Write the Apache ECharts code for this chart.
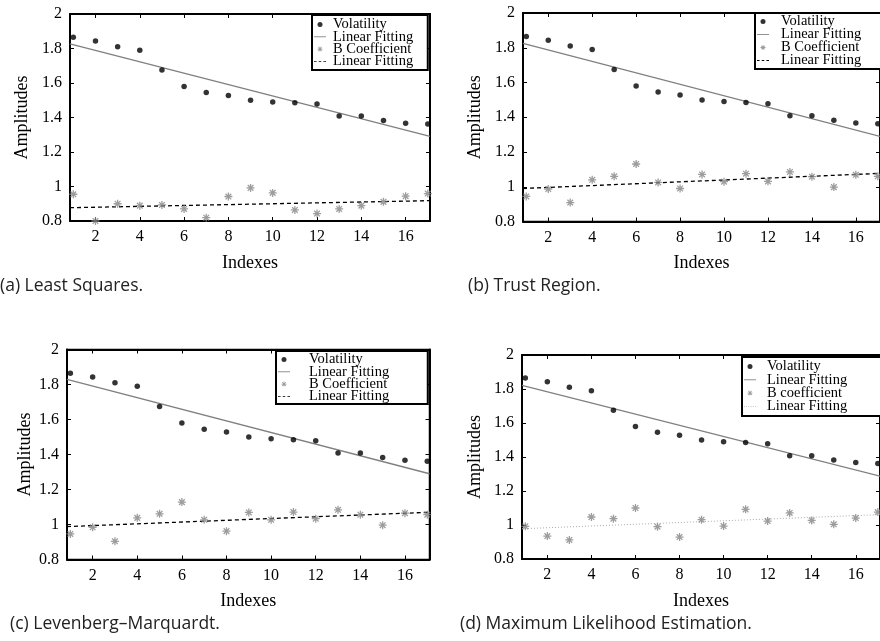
<!DOCTYPE html>
<html><head><meta charset="utf-8">
<script src="https://cdn.jsdelivr.net/npm/echarts@6/dist/echarts.min.js"></script>
<style>html,body{margin:0;padding:0;background:#fff}#c{width:880px;height:641px}</style>
</head><body><div id="c"></div>
<script>
// ---- data ----
const indexes = [1,2,3,4,5,6,7,8,9,10,11,12,13,14,15,16,17];
const volatility = [1.865,1.843,1.810,1.790,1.675,1.580,1.545,1.528,1.500,1.490,1.485,1.478,1.408,1.408,1.383,1.367,1.362];
const bCoefLS  = [0.955,0.800,0.900,0.889,0.893,0.870,0.819,0.942,0.992,0.963,0.864,0.843,0.870,0.889,0.911,0.944,0.959];
const bCoefTR  = [0.944,0.987,0.909,1.040,1.060,1.131,1.025,0.990,1.071,1.029,1.075,1.031,1.085,1.058,0.998,1.069,1.060];
const bCoefLM  = [0.946,0.984,0.904,1.038,1.061,1.128,1.027,0.962,1.069,1.027,1.071,1.033,1.084,1.056,0.996,1.065,1.056];
const bCoefMLE = [0.992,0.935,0.912,1.047,1.037,1.100,0.990,0.929,1.031,0.994,1.092,1.023,1.071,1.027,1.004,1.041,1.076];
const volFitLS  = [[0.85,1.827],[17.1,1.290]];
const volFitTR  = [[0.85,1.825],[17.1,1.290]];
const volFitLM  = [[0.85,1.829],[17.1,1.290]];
const volFitMLE = [[0.85,1.822],[17.1,1.287]];
const bFitLS  = [[0.85,0.877],[17.1,0.918]];
const bFitTR  = [[0.85,0.990],[17.1,1.077]];
const bFitLM  = [[0.85,0.988],[17.1,1.070]];
const bFitMLE = [[0.85,0.978],[17.1,1.061]];
const xTickLabels = [2,4,6,8,10,12,14,16];
const captions = ['(a) Least Squares.','(b) Trust Region.','(c) Levenberg\u2013Marquardt.','(d) Maximum Likelihood Estimation.'];
const legendNames = [
  ['Volatility','Linear Fitting','B Coefficient','Linear Fitting '],
  ['Volatility','Linear Fitting','B Coefficient','Linear Fitting '],
  ['Volatility','Linear Fitting','B Coefficient','Linear Fitting '],
  ['Volatility','Linear Fitting','B coefficient','Linear Fitting  ']
];

// ---- layout / style ----
const SERIF = '"Liberation Serif","Times New Roman",serif';
const ASTER = 'path://M10,1.6L10,-1.6L-10,-1.6L-10,1.6Z M-1.6,10L1.6,10L1.6,-10L-1.6,-10Z M5.94,8.2L8.2,5.94L-5.94,-8.2L-8.2,-5.94Z M-8.2,5.94L-5.94,8.2L8.2,-5.94L5.94,-8.2Z';
const ICON_SOLID  = 'path://M0,0L14,0L14,1L0,1Z';
const ICON_DASHED = 'path://M0,0L3,0L3,1L0,1Z M5.5,0L8.5,0L8.5,1L5.5,1Z M11,0L14,0L14,1L11,1Z';
const ICON_DOTTED = 'path://M0,0L1,0L1,1L0,1Z M2.6,0L3.6,0L3.6,1L2.6,1Z M5.2,0L6.2,0L6.2,1L5.2,1Z M7.8,0L8.8,0L8.8,1L7.8,1Z M10.4,0L11.4,0L11.4,1L10.4,1Z M13,0L14,0L14,1L13,1Z';
const panels = [
  {grid:{left:70,top:14,width:360,height:207}, yGap:39, legend:{left:312,top:15,pad:[2,11,1,2],tp:2,gap:-2.7},
   cap:{left:0,top:277}, b:bCoefLS, vf:volFitLS, bf:bFitLS, bfStyle:{color:'#000',width:1.3,type:[4,3]}, bIcon:ICON_DASHED},
  {grid:{left:523,top:13,width:362,height:208.5}, yGap:39, legend:{left:755,top:13,pad:[1,40,1,2],tp:7,gap:-2},
   cap:{left:468,top:277}, b:bCoefTR, vf:volFitTR, bf:bFitTR, bfStyle:{color:'#000',width:1.3,type:[4,3]}, bIcon:ICON_DASHED},
  {grid:{left:67,top:349.5,width:362.5,height:210}, yGap:33, legend:{left:276,top:351,pad:[1,35,0,2],tp:14,gap:-2.7},
   cap:{left:10,top:615}, b:bCoefLM, vf:volFitLM, bf:bFitLM, bfStyle:{color:'#000',width:1.3,type:[4,3]}, bIcon:ICON_DASHED},
  {grid:{left:522,top:355,width:358,height:204}, yGap:38, legend:{left:742,top:357,pad:[2,40,2,2],tp:6,gap:-1.7},
   cap:{left:460,top:615}, b:bCoefMLE, vf:volFitMLE, bf:bFitMLE, bfStyle:{color:'#aaa',width:1,type:[1,2]}, bIcon:ICON_DOTTED}
];

const grid=[], xAxis=[], yAxis=[], series=[], legend=[], title=[];
panels.forEach((p,i)=>{
  grid.push(Object.assign({containLabel:false, show:true, borderColor:'#000', borderWidth:1.5, backgroundColor:'transparent'}, p.grid));
  const axLine = w => ({show:true, onZero:false, lineStyle:{color:'#000', width:w}});
  const tick = () => ({show:true, inside:true, length:4, lineStyle:{color:'#000',width:1}});
  xAxis.push({type:'value', gridIndex:i, position:'bottom', min:0.85, max:17.1,
    axisLine:axLine(2), splitLine:{show:false},
    axisTick:Object.assign({customValues:xTickLabels}, tick()),
    axisLabel:{customValues:xTickLabels, margin:8, fontFamily:SERIF, fontSize:16, color:'#000'},
    name:'Indexes', nameLocation:'middle', nameGap:33, nameTextStyle:{fontFamily:SERIF, fontSize:18, color:'#000'}});
  xAxis.push({type:'value', gridIndex:i, position:'top', min:0.85, max:17.1,
    axisLine:axLine(2), splitLine:{show:false},
    axisTick:Object.assign({customValues:xTickLabels}, tick()), axisLabel:{show:false}});
  yAxis.push({type:'value', gridIndex:i, position:'left', min:0.8, max:2, interval:0.2,
    axisLine:axLine(2), splitLine:{show:false}, axisTick:tick(),
    axisLabel:{margin:8, fontFamily:SERIF, fontSize:16, color:'#000'},
    name:'Amplitudes', nameLocation:'middle', nameGap:p.yGap, nameTextStyle:{fontFamily:SERIF, fontSize:18, color:'#000'}});
  yAxis.push({type:'value', gridIndex:i, position:'right', min:0.8, max:2, interval:0.2,
    axisLine:axLine(2), splitLine:{show:false}, axisTick:tick(), axisLabel:{show:false}});
  const n = legendNames[i];
  const xa = 2*i, ya = 2*i;
  series.push({type:'scatter', name:n[0], xAxisIndex:xa, yAxisIndex:ya, symbol:'circle', symbolSize:5.5,
    itemStyle:{color:'#000'}, data: indexes.map((x,k)=>[x, volatility[k]]), z:3});
  series.push({type:'line', name:n[1], xAxisIndex:xa, yAxisIndex:ya, symbol:'none',
    lineStyle:{color:'#808080', width:1.3}, itemStyle:{color:'#808080'}, data:p.vf, z:2});
  series.push({type:'scatter', name:n[2], xAxisIndex:xa, yAxisIndex:ya, symbol:ASTER, symbolSize:8,
    itemStyle:{color:'#858585'}, data: indexes.map((x,k)=>[x, p.b[k]]), z:3});
  series.push({type:'line', name:n[3], xAxisIndex:xa, yAxisIndex:ya, symbol:'none',
    lineStyle:p.bfStyle, itemStyle:{color:p.bfStyle.color}, data:p.bf, z:2});
  legend.push({orient:'vertical', left:p.legend.left, top:p.legend.top,
    data:[
      {name:n[0], icon:'circle', itemStyle:{color:'#000'}},
      {name:n[1], icon:ICON_SOLID, itemStyle:{color:'#808080'}},
      {name:n[2], icon:ASTER, itemStyle:{color:'#858585'}},
      {name:n[3], icon:p.bIcon, itemStyle:{color:p.bfStyle.color}}
    ],
    symbolKeepAspect:true,
    itemWidth:12, itemHeight:5, itemGap:p.legend.gap, padding:p.legend.pad, align:'left',
    borderColor:'#000', borderWidth:2, backgroundColor:'#fff', selectedMode:false,
    textStyle:{fontFamily:SERIF, fontSize:14.5, color:'#000', padding:[0,0,0,p.legend.tp]}});
  title.push({text:captions[i], left:p.cap.left, top:p.cap.top, padding:0,
    textStyle:{fontFamily:'"Open Sans","Noto Sans",sans-serif', fontSize:17.5, fontWeight:'normal', color:'#222'}});
});

const chart = echarts.init(document.getElementById('c'), null, {renderer:'canvas'});
chart.setOption({animation:false, backgroundColor:'#fff', grid, xAxis, yAxis, series, legend, title});
</script></body></html>
